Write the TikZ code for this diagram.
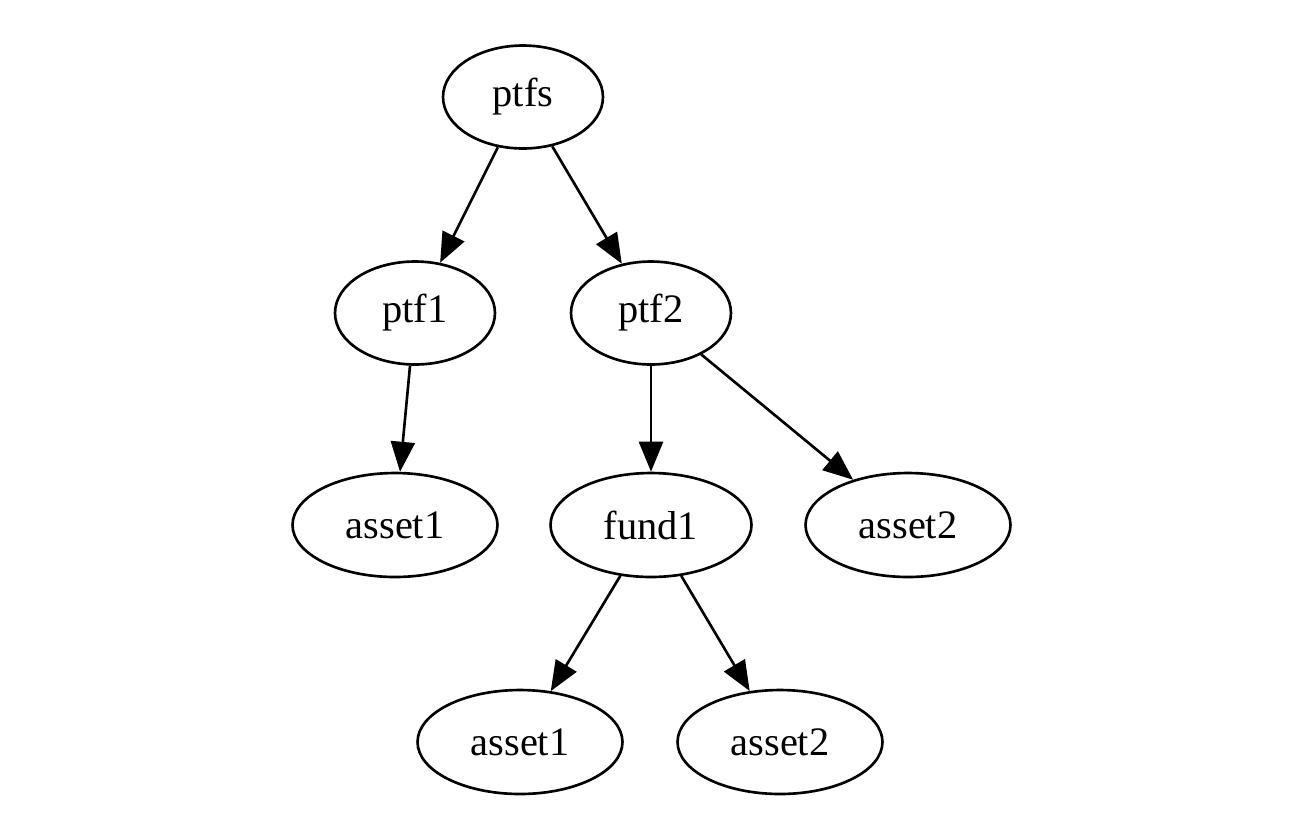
\documentclass[tikz,border=0pt]{standalone}
\usepackage{fontspec}
\setmainfont{Liberation Serif}
\usetikzlibrary{arrows.meta,shapes.geometric}
\tikzset{
  treenode/.style={draw, ellipse, line width=1.5pt, inner sep=0pt,
    minimum width=3.2cm, minimum height=2.06cm,
    font=\fontsize{23}{28}\selectfont},
  widenode/.style={treenode, minimum width=4.1cm, minimum height=2.08cm},
  edge/.style={line width=1.5pt, -{Triangle[length=0.6cm,width=0.48cm]}}
}
\begin{document}
\begin{tikzpicture}[x=0.02cm,y=-0.02cm]
  \useasboundingbox (0,0) rectangle (1300,832);
  \node[treenode] (ptfs) at (523,97) {ptfs};
  \node[treenode] (ptf1) at (415,313) {ptf1};
  \node[treenode] (ptf2) at (651,313) {ptf2};
  \node[widenode] (asset1a) at (395,525) {asset1};
  \node[widenode, minimum width=4.02cm] (fund1) at (651,525) {fund1};
  \node[widenode] (asset2a) at (908,525) {asset2};
  \node[widenode] (asset1b) at (520,742) {asset1};
  \node[widenode] (asset2b) at (780,742) {asset2};
  \draw[edge] (ptfs) -- (ptf1);
  \draw[edge] (ptfs) -- (ptf2);
  \draw[edge] (ptf1) -- (asset1a);
  \draw[edge] (ptf2) -- (fund1);
  \draw[edge] (ptf2) -- (asset2a);
  \draw[edge] (fund1) -- (asset1b);
  \draw[edge] (fund1) -- (asset2b);
\end{tikzpicture}
\end{document}
